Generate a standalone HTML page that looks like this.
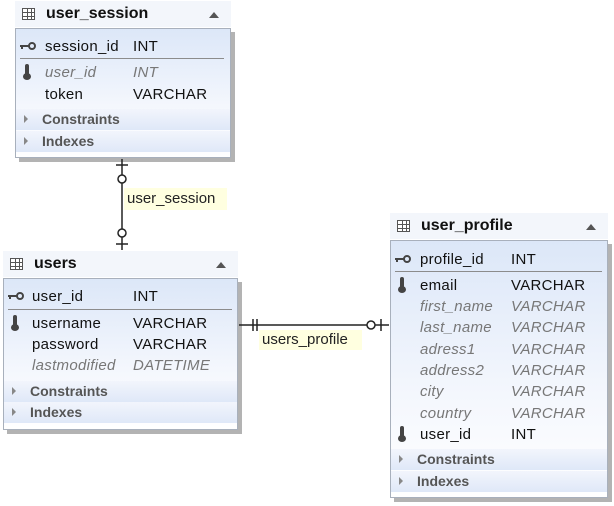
<!DOCTYPE html>
<html><head><meta charset="utf-8"><style>
body{margin:0;width:614px;height:506px;background:#fff;position:relative;overflow:hidden;font-family:"Liberation Sans",Tahoma,sans-serif;}
.a{position:absolute;}
.hdr{position:absolute;background:#f3f6fb;}
.hdr .t{position:absolute;left:31px;top:4px;font-weight:bold;font-size:16px;color:#111;}
.hdr .ic{position:absolute;left:7px;top:7px;width:13px;height:12px;border:1px solid #555;background:
 linear-gradient(#555,#555) 0 3px/100% 1px no-repeat,
 linear-gradient(#555,#555) 0 7px/100% 1px no-repeat,
 linear-gradient(#555,#555) 4px 0/1px 100% no-repeat,
 linear-gradient(#555,#555) 8px 0/1px 100% no-repeat,#fff;box-sizing:border-box;}
.hdr .up{position:absolute;top:11px;width:0;height:0;border-left:5px solid transparent;border-right:5px solid transparent;border-bottom:6px solid #555;}
.body{position:absolute;border:1px solid #a8b0bc;background:linear-gradient(#dce7f8,#f4f7fd 60%,#fff);box-shadow:4px 4px 0 #b3b3b3;box-sizing:border-box;}
.r{position:absolute;font-size:15px;color:#111;white-space:nowrap;letter-spacing:0.3px;margin-top:1px;}
.i{font-style:italic;color:#777;}
.sec{position:absolute;height:21px;background:linear-gradient(#f2f5fc,#dfe8f8);font-weight:bold;font-size:14px;color:#555;}
.sec span{position:absolute;left:26px;top:2px;}
.sec b{position:absolute;left:8px;top:6px;border-top:4px solid transparent;border-bottom:4px solid transparent;border-left:4px solid #888;}
.sep{position:absolute;height:1px;background:#8c8c8c;}
.therm{position:absolute;width:4px;height:11px;background:#444;border-radius:2px 2px 0 0;}
.therm:after{content:"";position:absolute;left:-2px;top:9px;width:8px;height:7px;border-radius:50%;background:#444;}
</style></head><body>

<!-- user_session -->
<div class="hdr" style="left:15px;top:1px;width:216px;height:26px"><div class="ic"></div><div class="t">user_session</div><div class="up" style="left:194px"></div></div>
<div class="body" style="left:15px;top:28px;width:216px;height:130px"></div>
<svg class="a" style="left:20px;top:42px" width="18" height="8"><rect x="0" y="3" width="9" height="2" fill="#444"/><rect x="1" y="3" width="2" height="4" fill="#444"/><circle cx="12" cy="4" r="3" fill="none" stroke="#444" stroke-width="2"/></svg>
<div class="r" style="left:45px;top:37px">session_id</div><div class="r" style="left:133px;top:37px">INT</div>
<div class="sep" style="left:20px;top:58px;width:204px"></div>
<div class="therm" style="left:25px;top:64px"></div>
<div class="r i" style="left:45px;top:63px">user_id</div><div class="r i" style="left:133px;top:63px">INT</div>
<div class="r" style="left:45px;top:85px">token</div><div class="r" style="left:133px;top:85px">VARCHAR</div>
<div class="sec" style="left:16px;top:109px;width:214px"><b></b><span>Constraints</span></div>
<div class="sec" style="left:16px;top:131px;width:214px"><b></b><span>Indexes</span></div>

<!-- users -->
<div class="hdr" style="left:3px;top:251px;width:235px;height:26px"><div class="ic"></div><div class="t">users</div><div class="up" style="left:213px"></div></div>
<div class="body" style="left:3px;top:278px;width:235px;height:152px"></div>
<svg class="a" style="left:8px;top:292px" width="18" height="8"><rect x="0" y="3" width="9" height="2" fill="#444"/><rect x="1" y="3" width="2" height="4" fill="#444"/><circle cx="12" cy="4" r="3" fill="none" stroke="#444" stroke-width="2"/></svg>
<div class="r" style="left:32px;top:287px">user_id</div><div class="r" style="left:133px;top:287px">INT</div>
<div class="sep" style="left:8px;top:309px;width:224px"></div>
<div class="therm" style="left:13px;top:315px"></div>
<div class="r" style="left:32px;top:314px">username</div><div class="r" style="left:133px;top:314px">VARCHAR</div>
<div class="r" style="left:32px;top:335px">password</div><div class="r" style="left:133px;top:335px">VARCHAR</div>
<div class="r i" style="left:32px;top:356px">lastmodified</div><div class="r i" style="left:133px;top:356px">DATETIME</div>
<div class="sec" style="left:4px;top:381px;width:233px"><b></b><span>Constraints</span></div>
<div class="sec" style="left:4px;top:402px;width:233px"><b></b><span>Indexes</span></div>

<!-- user_profile -->
<div class="hdr" style="left:390px;top:213px;width:218px;height:26px"><div class="ic"></div><div class="t">user_profile</div><div class="up" style="left:196px"></div></div>
<div class="body" style="left:390px;top:240px;width:218px;height:258px"></div>
<svg class="a" style="left:395px;top:255px" width="18" height="8"><rect x="0" y="3" width="9" height="2" fill="#444"/><rect x="1" y="3" width="2" height="4" fill="#444"/><circle cx="12" cy="4" r="3" fill="none" stroke="#444" stroke-width="2"/></svg>
<div class="r" style="left:420px;top:250px">profile_id</div><div class="r" style="left:511px;top:250px">INT</div>
<div class="sep" style="left:395px;top:271px;width:207px"></div>
<div class="therm" style="left:400px;top:277px"></div>
<div class="r" style="left:420px;top:276px">email</div><div class="r" style="left:511px;top:276px">VARCHAR</div>
<div class="r i" style="left:420px;top:297px">first_name</div><div class="r i" style="left:511px;top:297px">VARCHAR</div>
<div class="r i" style="left:420px;top:318px">last_name</div><div class="r i" style="left:511px;top:318px">VARCHAR</div>
<div class="r i" style="left:420px;top:340px">adress1</div><div class="r i" style="left:511px;top:340px">VARCHAR</div>
<div class="r i" style="left:420px;top:361px">address2</div><div class="r i" style="left:511px;top:361px">VARCHAR</div>
<div class="r i" style="left:420px;top:382px">city</div><div class="r i" style="left:511px;top:382px">VARCHAR</div>
<div class="r i" style="left:420px;top:404px">country</div><div class="r i" style="left:511px;top:404px">VARCHAR</div>
<div class="therm" style="left:400px;top:426px"></div>
<div class="r" style="left:420px;top:425px">user_id</div><div class="r" style="left:511px;top:425px">INT</div>
<div class="sec" style="left:391px;top:449px;width:216px"><b></b><span>Constraints</span></div>
<div class="sec" style="left:391px;top:471px;width:216px"><b></b><span>Indexes</span></div>

<!-- connectors -->
<svg class="a" style="left:0;top:0" width="614" height="506">
<g stroke="#222" stroke-width="1.5" fill="#fff">
<line x1="122" y1="159" x2="122" y2="250"/>
<line x1="116" y1="165" x2="128" y2="165"/>
<circle cx="122" cy="179" r="4"/>
<circle cx="122" cy="233" r="4"/>
<line x1="116" y1="244" x2="128" y2="244"/>
<line x1="239" y1="325" x2="389" y2="325"/>
<line x1="253" y1="319" x2="253" y2="331"/>
<line x1="257" y1="319" x2="257" y2="331"/>
<circle cx="371" cy="325" r="4"/>
<line x1="381" y1="319" x2="381" y2="331"/>
</g></svg>
<div class="a" style="left:124px;top:188px;width:103px;height:22px;background:#ffffe0;font-size:15px;color:#222;line-height:22px;padding-left:3px;box-sizing:border-box">user_session</div>
<div class="a" style="left:259px;top:330px;width:103px;height:20px;background:#ffffe0;font-size:15px;color:#222;line-height:20px;padding-left:3px;box-sizing:border-box">users_profile</div>
</body></html>
